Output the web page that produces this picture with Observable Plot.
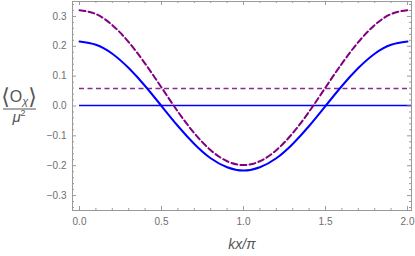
<!DOCTYPE html>
<html><head><meta charset="utf-8">
<script src="https://cdn.jsdelivr.net/npm/d3@7"></script>
<script src="https://cdn.jsdelivr.net/npm/@observablehq/plot@0.6"></script>
<style>body{margin:0;background:#fff}</style>
</head><body><div id="chart"></div>
<script>
const xs = [0,0.1,0.2,0.3,0.4,0.5,0.6,0.7,0.8,0.9,1.0,1.1,1.2,1.3,1.4,1.5,1.6,1.7,1.8,1.9,2.0];
const blueVals = [0.216,0.205,0.175,0.127,0.067,0.000,-0.067,-0.127,-0.175,-0.205,-0.216,-0.205,-0.175,-0.127,-0.067,0.000,0.067,0.127,0.175,0.205,0.216];
const purpleVals = [0.321,0.308,0.271,0.214,0.142,0.062,-0.019,-0.091,-0.148,-0.185,-0.198,-0.185,-0.148,-0.091,-0.019,0.062,0.142,0.214,0.271,0.308,0.321];
const blueLevel = [0.0];
const purpleLevel = [0.059];
const xMajor = [0,0.5,1.0,1.5,2.0];
const xMinor = [0.1,0.2,0.3,0.4,0.6,0.7,0.8,0.9,1.1,1.2,1.3,1.4,1.6,1.7,1.8,1.9];
const yMajor = [-0.3,-0.2,-0.1,0.0,0.1,0.2,0.3];
const yMinor = [-0.34,-0.32,-0.28,-0.26,-0.24,-0.22,-0.18,-0.16,-0.14,-0.12,-0.08,-0.06,-0.04,-0.02,0.02,0.04,0.06,0.08,0.12,0.14,0.16,0.18,0.22,0.24,0.26,0.28,0.32,0.34];
const xDomain = [-0.0427, 2.0244];
const yDomain = [-0.35, 0.35];

const W = 415, H = 256, mt = 1, mb = 46, ml = 72, mr = 4;
const fw = W - ml - mr, fh = H - mt - mb;
const fr = "#9a9a9a", lab = "#6e6e6e";
const blue = xs.map((x,i)=>({x, y: blueVals[i]}));
const purple = xs.map((x,i)=>({x, y: purpleVals[i]}));

const svg = Plot.plot({
  width: W, height: H,
  marginTop: mt, marginBottom: mb, marginLeft: ml, marginRight: mr,
  style: {fontFamily: "'Liberation Sans', Arial, sans-serif", background: "#fff"},
  x: {domain: xDomain},
  y: {domain: yDomain},
  marks: [
    Plot.ruleY(blueLevel, {x1: 0, x2: xDomain[1], stroke: "#0000ff", strokeWidth: 1.3, dy: -0.5}),
    Plot.ruleY(purpleLevel, {x1: 0, x2: xDomain[1], stroke: "#8a2a8a", strokeWidth: 1.5, strokeDasharray: "5,3.5"}),
    Plot.line(purple, {x: "x", y: "y", curve: "natural", stroke: "#800080", strokeWidth: 2, strokeDasharray: "6,3.2"}),
    Plot.line(blue, {x: "x", y: "y", curve: "natural", stroke: "#0000ff", strokeWidth: 2}),
    Plot.frame({stroke: fr, strokeWidth: 1}),
    Plot.ruleX(xMajor, {stroke: fr, insetTop: fh - 4}),
    Plot.ruleX(xMajor, {stroke: fr, insetBottom: fh - 4}),
    Plot.ruleX(xMinor, {stroke: fr, insetTop: fh - 2}),
    Plot.ruleX(xMinor, {stroke: fr, insetBottom: fh - 2}),
    Plot.ruleY(yMajor, {stroke: fr, insetRight: fw - 4}),
    Plot.ruleY(yMajor, {stroke: fr, insetLeft: fw - 4}),
    Plot.ruleY(yMinor, {stroke: fr, insetRight: fw - 2}),
    Plot.ruleY(yMinor, {stroke: fr, insetLeft: fw - 2}),
    Plot.axisX(xMajor, {tickSize: 0, tickPadding: 7, tickFormat: d3.format(".1f"), fontSize: 10, fill: lab, label: null}),
    Plot.axisY(yMajor, {tickSize: 0, tickPadding: 6, tickFormat: d3.format(".1f"), fontSize: 10, fill: lab, label: null}),
    Plot.text(["kx/π"], {frameAnchor: "bottom", dy: 38, text: d => d, fontStyle: "italic", fontSize: 14, fill: "#555"})
  ]
});

const s = d3.select(svg);
const g = s.append("g").attr("fill", "#555").attr("font-family", "'Liberation Sans', Arial, sans-serif").attr("text-anchor", "middle");
const num = g.append("text").attr("x", 19).attr("y", 102).attr("font-size", 16);
num.append("tspan").attr("font-size", 22).attr("font-family", "'DejaVu Sans'").attr("dy", 2).text("⟨");
num.append("tspan").attr("dy", -2).text("O");
num.append("tspan").attr("font-size", 11).attr("font-style", "italic").attr("dy", 2.5).text("χ");
num.append("tspan").attr("font-size", 22).attr("font-family", "'DejaVu Sans'").attr("dy", -0.5).text("⟩");
g.append("line").attr("x1", 3).attr("x2", 36).attr("y1", 109).attr("y2", 109).attr("stroke", "#555").attr("stroke-width", 1);
const den = g.append("text").attr("x", 19).attr("y", 121.5).attr("font-size", 15).attr("font-style", "italic");
den.append("tspan").text("μ");
den.append("tspan").attr("font-size", 9).attr("font-style", "normal").attr("dy", -6).text("2");

document.getElementById("chart").appendChild(svg);
</script>
</body></html>
